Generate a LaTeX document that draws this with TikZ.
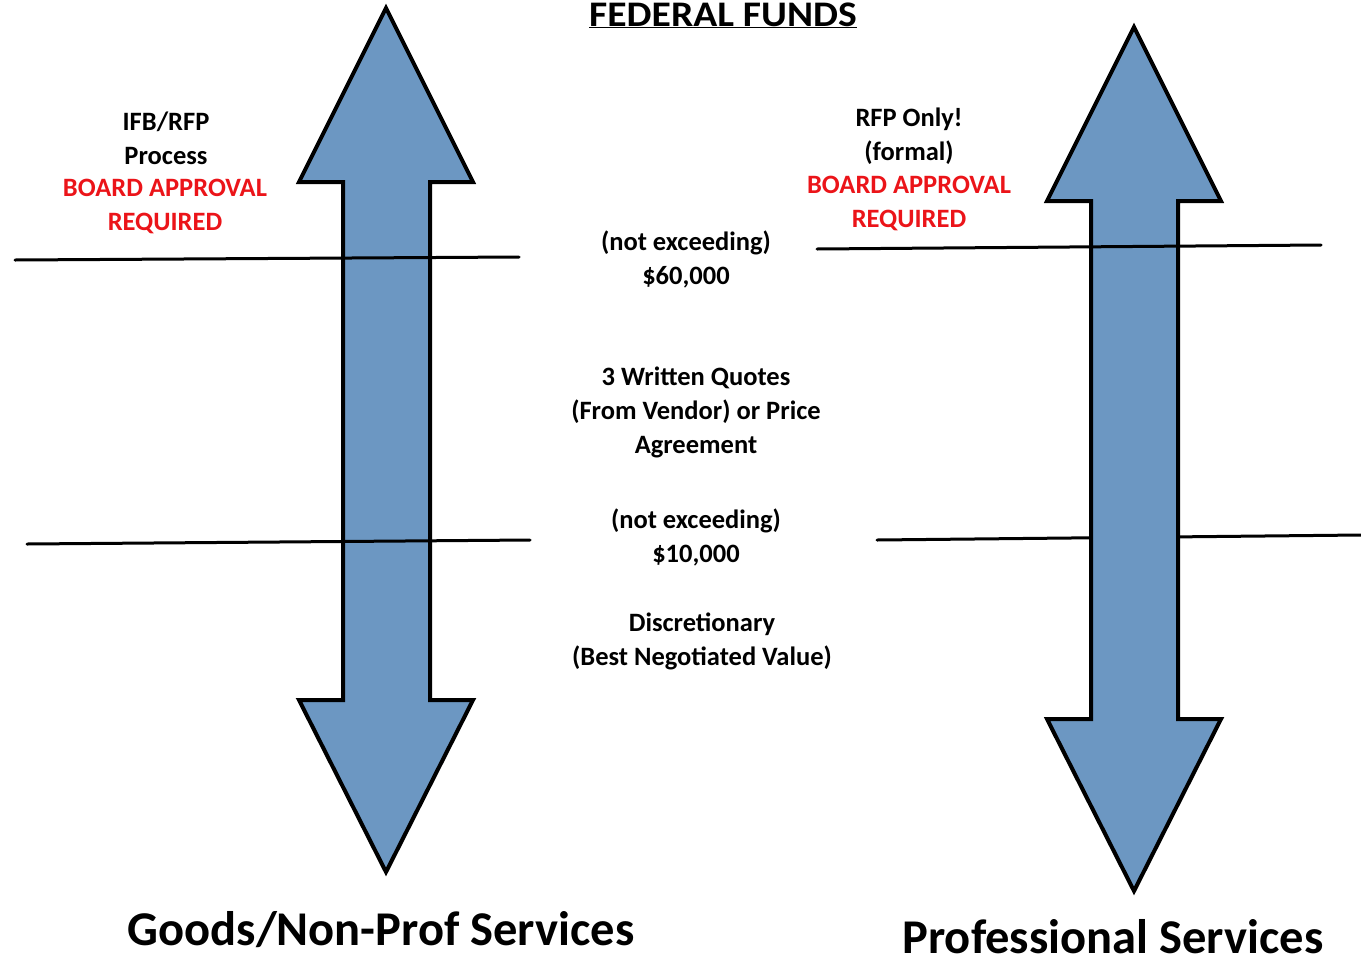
\documentclass[tikz,border=0pt]{standalone}
\usepackage{fontspec}
\setmainfont{Carlito}
\usetikzlibrary{calc}
\definecolor{shaftblue}{RGB}{108,151,194}
\definecolor{boardred}{RGB}{235,20,25}

% double-headed block arrow, tip at the origin of the current scope
\newcommand{\fundarrow}{%
	\filldraw[arrowbody] (0,0) -- (87,174) -- (44,174) -- (44,692) -- (87,692)
	-- (0,864) -- (-87,692) -- (-43,692) -- (-43,174) -- (-87,174) -- cycle;}

\begin{document}
\begin{tikzpicture}[x=1pt, y=-1pt, line cap=round, line join=miter,
	arrowbody/.style={fill=shaftblue, draw=black, line width=4pt},
	limit/.style={draw=black, line width=3pt},
	lbl/.style={font=\fontsize{26.5}{34}\selectfont\bfseries, align=center, inner sep=0pt},
	warn/.style={lbl, text=boardred},
	title/.style={font=\fontsize{48.5}{52}\selectfont\bfseries, inner sep=0pt, anchor=base}]
\useasboundingbox (0,0) rectangle (1361,959);

%========================
% Left: goods / non-prof services
%========================
\begin{scope}[shift={(386,8)}]
	\fundarrow
\end{scope}
% thresholds
\coordinate (gtopL) at (15,260);
\coordinate (gtopR) at (519,257);
\coordinate (gbotL) at (27,544);
\coordinate (gbotR) at (530,540);
\draw[limit] (gtopL) -- (gtopR);
\draw[limit] (gbotL) -- (gbotR);

\node[lbl] (ifb) at (166,138) {IFB/RFP\\Process};
\node[warn] (gboard) at (165,206) {BOARD APPROVAL\\REQUIRED};
\node[title] (goods) at (381,945) {Goods/Non-Prof Services};

%========================
% Right: professional services
%========================
\coordinate (pbotL) at (877,540);
\coordinate (pbotR) at (1361,535);
\draw[limit] (pbotL) -- (pbotR);
\begin{scope}[shift={(1134,27)}]
	\fundarrow
\end{scope}
\coordinate (ptopL) at (817,249);
\coordinate (ptopR) at (1321,245);
\draw[limit] (ptopL) -- (ptopR);

\node[lbl] (rfp) at (909,136) {RFP Only!\\(formal)};
\node[warn] (pboard) at (909,203) {BOARD APPROVAL\\REQUIRED};
\node[title] (prof) at (1113,953) {Professional Services};

%========================
% Middle: amounts and methods
%========================
\node[font=\fontsize{36}{38}\selectfont\bfseries, inner sep=0pt, anchor=base] (fed) at (723,26)
	{\scalebox{1.1}[1]{\underline{FEDERAL FUNDS}}};
\node[lbl] (upper) at (686,259) {(not exceeding)\\\$60,000};
\node[lbl] (quotes) at (696,412) {3 Written Quotes\\(From Vendor) or Price\\Agreement};
\node[lbl] (lower) at (696,537) {(not exceeding)\\\$10,000};
\node[lbl] (disc) at (702,641) {Discretionary\\(Best Negotiated Value)};

\end{tikzpicture}
\end{document}
